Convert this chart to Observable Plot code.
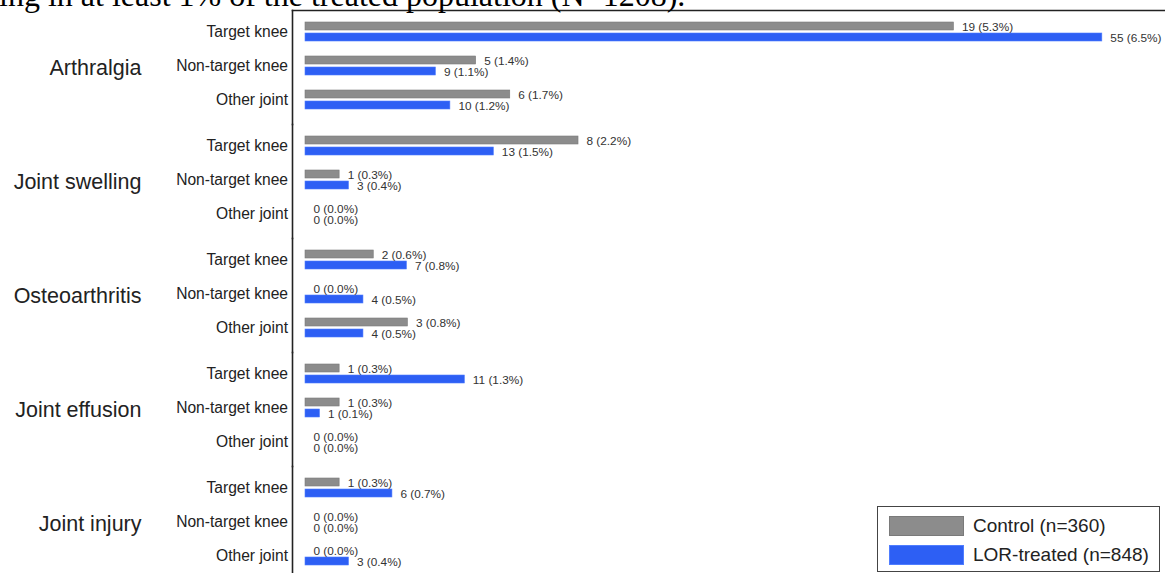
<!DOCTYPE html>
<html>
<head>
<meta charset="utf-8">
<script src="https://cdn.jsdelivr.net/npm/d3@7"></script>
<script src="https://cdn.jsdelivr.net/npm/@observablehq/plot@0.6"></script>
<style>
  html, body { margin: 0; padding: 0; background: #fff; overflow: hidden; }
  #wrap { position: relative; width: 1165px; height: 573px; overflow: hidden; }
  #title { position: absolute; left: -1px; top: -21px; font: 32px/32px "Liberation Serif", "Times New Roman", serif; color: #000; white-space: nowrap; z-index: 2; }
  #chart { position: absolute; left: 0; top: 0; }
  #legend { position: absolute; left: 877px; top: 506px; width: 281px; height: 64px; border: 1.5px solid #444; background: #fff; font: 19px "Liberation Sans", Arial, sans-serif; color: #222; }
  .lg-row { position: absolute; left: 11px; display: flex; align-items: center; }
  .lg-sw { width: 75px; height: 20px; margin-right: 9px; box-sizing: border-box; }
</style>
</head>
<body>
<div id="wrap">
  <div id="title">ing in at least 1% of the treated population (N=1208).</div>
  <div id="chart"></div>
  <div id="legend"></div>
</div>
<script>
// ---- data ----
const groups = ["Arthralgia", "Joint swelling", "Osteoarthritis", "Joint effusion", "Joint injury"];
const subs = ["Target knee", "Non-target knee", "Other joint"];
const seriesNames = ["Control (n=360)", "LOR-treated (n=848)"];
const seriesN = [360, 848];
const seriesColors = ["#8c8c8c", "#2d5ff4"];
// counts, ordered group by group, sub by sub
const controlCounts = [19, 5, 6, 8, 1, 0, 2, 0, 3, 1, 1, 0, 1, 0, 0];
const lorCounts = [55, 9, 10, 13, 3, 0, 7, 4, 4, 11, 1, 0, 6, 0, 3];

function rows(counts, n) {
  return counts.map((c, i) => ({
    group: groups[Math.floor(i / subs.length)],
    sub: subs[i % subs.length],
    count: c,
    pct: c / n * 100
  }));
}
const ctrl = rows(controlCounts, seriesN[0]);
const lor = rows(lorCounts, seriesN[1]);
const label = d => `${d.count} (${d.pct.toFixed(1)}%)`;

const plot = Plot.plot({
  width: 1165,
  height: 580,
  marginLeft: 292,
  marginTop: 10,
  marginRight: 0,
  marginBottom: 0,
  style: { fontFamily: "'Liberation Sans', Arial, sans-serif", background: "transparent" },
  x: { domain: [0, 7], insetLeft: 13, axis: null },
  y: { domain: subs, paddingInner: 0.43, paddingOuter: 0.38, align: 0.46, axis: null },
  fy: { domain: groups, padding: 0, axis: null },
  marks: [
    Plot.barX(ctrl, { x: "pct", y: "sub", fy: "group", fill: seriesColors[0], stroke: "#7a7a7a", strokeWidth: 0.6, insetBottom: 11 }),
    Plot.barX(lor, { x: "pct", y: "sub", fy: "group", fill: seriesColors[1], stroke: "#4f7dff", strokeWidth: 0.6, insetTop: 11 }),
    Plot.text(ctrl, { x: "pct", y: "sub", fy: "group", text: label, textAnchor: "start", dx: 8, dy: -4.5, fontSize: 11.8, fill: "#333" }),
    Plot.text(lor, { x: "pct", y: "sub", fy: "group", text: label, textAnchor: "start", dx: 8, dy: 6.5, fontSize: 11.8, fill: "#333" }),
    Plot.axisY({ tickSize: 0, tickPadding: 4.5, fontSize: 15.6, fill: "#222", label: null }),
    Plot.text(groups, { fy: d => d, text: d => d, frameAnchor: "left", textAnchor: "end", dx: -151, dy: 1, fontSize: 21.5, fill: "#222" }),
    Plot.frame({ anchor: "left", stroke: "#222", strokeWidth: 1.6 }),
    Plot.frame({ anchor: "top", facetAnchor: "top", stroke: "#222", strokeWidth: 1.6 })
  ]
});
document.getElementById("chart").appendChild(plot);

// legend
const lg = d3.select("#legend");
seriesNames.forEach((name, i) => {
  const row = lg.append("div").attr("class", "lg-row").style("top", (8 + i * 28.5) + "px");
  row.append("div").attr("class", "lg-sw")
    .style("background", seriesColors[i])
    .style("border", "1px solid " + (i === 0 ? "#7a7a7a" : "#4f7dff"));
  row.append("span").text(name);
});
</script>
</body>
</html>
